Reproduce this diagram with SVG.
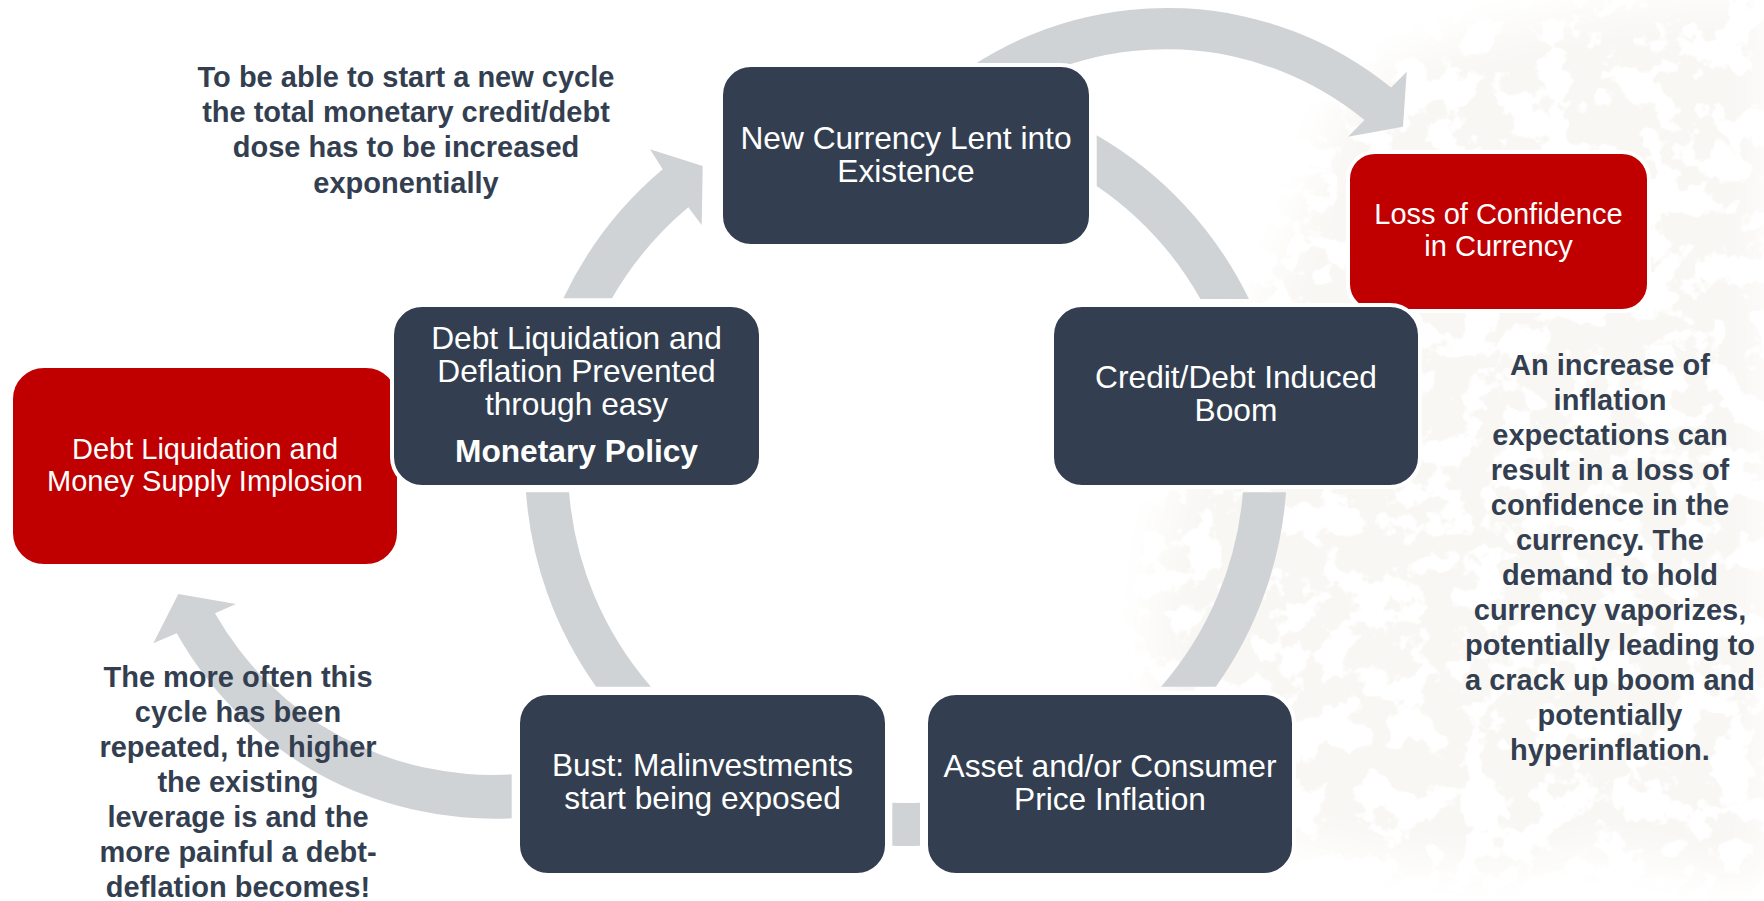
<svg xmlns="http://www.w3.org/2000/svg" width="1764" height="901" viewBox="0 0 1764 901">
  <defs>
    <style>
      .box { fill: #333F50; stroke: #FFFFFF; stroke-width: 4; }
      .red { fill: #C00000; stroke: #FFFFFF; stroke-width: 4; }
      .arc { fill: #D0D3D6; }
      .bt { font-family: "Liberation Sans", Arial, sans-serif; font-size: 31.7px; fill: #FFFFFF; text-anchor: middle; }
      .rt { font-family: "Liberation Sans", Arial, sans-serif; font-size: 29px; fill: #FFFFFF; text-anchor: middle; }
      .note { font-family: "Liberation Sans", Arial, sans-serif; font-size: 29px; font-weight: bold; fill: #333F50; text-anchor: middle; }
    </style>
    <filter id="tex" x="1080" y="0" width="684" height="901" filterUnits="userSpaceOnUse">
      <feTurbulence type="fractalNoise" baseFrequency="0.028" numOctaves="4" seed="11" result="n"/>
      <feColorMatrix in="n" type="matrix" values="0 0 0 0 0.945  0 0 0 0 0.929  0 0 0 0 0.902  16 0 0 0 -7.0" result="spots"/>
      <feGaussianBlur in="SourceAlpha" stdDeviation="22" result="soft"/>
      <feComposite in="spots" in2="soft" operator="in"/>
    </filter>
  </defs>
  <rect x="0" y="0" width="1764" height="901" fill="#FFFFFF"/>

  <g id="background-texture">
    <path filter="url(#tex)" fill="#000" d="M1330 120 L1400 60 L1500 30 L1600 10 L1700 0 L1764 0 L1764 880 L1700 870 L1600 850 L1500 870 L1400 860 L1300 840 L1220 800 L1170 740 L1150 640 L1160 540 L1190 440 L1240 340 L1290 250 L1320 170 Z"/>
  </g>

  <g id="connectors">
    <path class="arc" d="M563.4 298.3 A381 381 0 0 1 662.7 169.3 L650 149.3 L702.7 166 L701.7 225 L688.3 207.3 A338 338 0 0 0 612 298.3 Z"/>
    <path class="arc" d="M1096.7 135.2 A381 381 0 0 1 1248.9 299 L1200.4 299 A338 338 0 0 0 1096.7 185.9 Z"/>
    <path class="arc" d="M1286 492.3 A381 381 0 0 1 1215.9 686.7 L1161.1 686.7 A338 338 0 0 0 1242.9 492.3 Z"/>
    <path class="arc" d="M596.1 686.7 A381 381 0 0 1 526 492.3 L569.1 492.3 A338 338 0 0 0 650.9 686.7 Z"/>
    <path class="arc" d="M920 845.7 A381 381 0 0 1 892.3 845.8 L892.3 802.7 A338 338 0 0 0 920 802.7 Z"/>
    <path class="arc" d="M972 66 A355.5 355.5 0 0 1 1391.1 87.6 L1406.7 71.7 L1403 126.7 L1348 136.7 L1364.5 120.1 A313.5 313.5 0 0 0 993.3 101 Z"/>
    <path class="arc" d="M511.7 818.3 A364 364 0 0 1 176.7 633.3 L153.3 643.3 L178.3 594 L236 604 L215 613.3 A319 319 0 0 0 511.7 774.3 Z"/>
  </g>

  <g id="node-debt-implosion">
    <rect class="red" x="11" y="366" width="388" height="200" rx="33" ry="33"/>
    <text class="rt" x="205" y="459">Debt Liquidation and</text>
    <text class="rt" x="205" y="491">Money Supply Implosion</text>
  </g>

  <g id="node-loss-confidence">
    <rect class="red" x="1348" y="152" width="301" height="159" rx="27" ry="27"/>
    <text class="rt" x="1498.5" y="224">Loss of Confidence</text>
    <text class="rt" x="1498.5" y="256">in Currency</text>
  </g>

  <g id="node-new-currency">
    <rect class="box" x="721" y="65" width="370" height="181" rx="30" ry="30"/>
    <text class="bt" x="906" y="149">New Currency Lent into</text>
    <text class="bt" x="906" y="182">Existence</text>
  </g>

  <g id="node-credit-boom">
    <rect class="box" x="1052" y="305" width="368" height="182" rx="30" ry="30"/>
    <text class="bt" x="1236" y="388">Credit/Debt Induced</text>
    <text class="bt" x="1236" y="421">Boom</text>
  </g>

  <g id="node-asset-inflation">
    <rect class="box" x="926" y="693" width="368" height="182" rx="30" ry="30"/>
    <text class="bt" x="1110" y="777">Asset and/or Consumer</text>
    <text class="bt" x="1110" y="810">Price Inflation</text>
  </g>

  <g id="node-bust">
    <rect class="box" x="518" y="693" width="369" height="182" rx="30" ry="30"/>
    <text class="bt" x="702.5" y="776">Bust: Malinvestments</text>
    <text class="bt" x="702.5" y="809">start being exposed</text>
  </g>

  <g id="node-debt-prevented">
    <rect class="box" x="392" y="305" width="369" height="182" rx="30" ry="30"/>
    <text class="bt" x="576.5" y="349">Debt Liquidation and</text>
    <text class="bt" x="576.5" y="382">Deflation Prevented</text>
    <text class="bt" x="576.5" y="415">through easy</text>
    <text class="bt" x="576.5" y="462" font-weight="bold">Monetary Policy</text>
  </g>

  <g id="note-top-left">
    <text class="note" x="406" y="87">To be able to start a new cycle</text>
    <text class="note" x="406" y="122.2">the total monetary credit/debt</text>
    <text class="note" x="406" y="157.4">dose has to be increased</text>
    <text class="note" x="406" y="192.6">exponentially</text>
  </g>

  <g id="note-bottom-left">
    <text class="note" x="238" y="686.5">The more often this</text>
    <text class="note" x="238" y="721.5">cycle has been</text>
    <text class="note" x="238" y="756.5">repeated, the higher</text>
    <text class="note" x="238" y="791.5">the existing</text>
    <text class="note" x="238" y="826.5">leverage is and the</text>
    <text class="note" x="238" y="861.5">more painful a debt-</text>
    <text class="note" x="238" y="896.5">deflation becomes!</text>
  </g>

  <g id="note-right">
    <text class="note" x="1610" y="375">An increase of</text>
    <text class="note" x="1610" y="410">inflation</text>
    <text class="note" x="1610" y="445">expectations can</text>
    <text class="note" x="1610" y="480">result in a loss of</text>
    <text class="note" x="1610" y="515">confidence in the</text>
    <text class="note" x="1610" y="550">currency. The</text>
    <text class="note" x="1610" y="585">demand to hold</text>
    <text class="note" x="1610" y="620">currency vaporizes,</text>
    <text class="note" x="1610" y="655">potentially leading to</text>
    <text class="note" x="1610" y="690">a crack up boom and</text>
    <text class="note" x="1610" y="725">potentially</text>
    <text class="note" x="1610" y="760">hyperinflation.</text>
  </g>
</svg>
